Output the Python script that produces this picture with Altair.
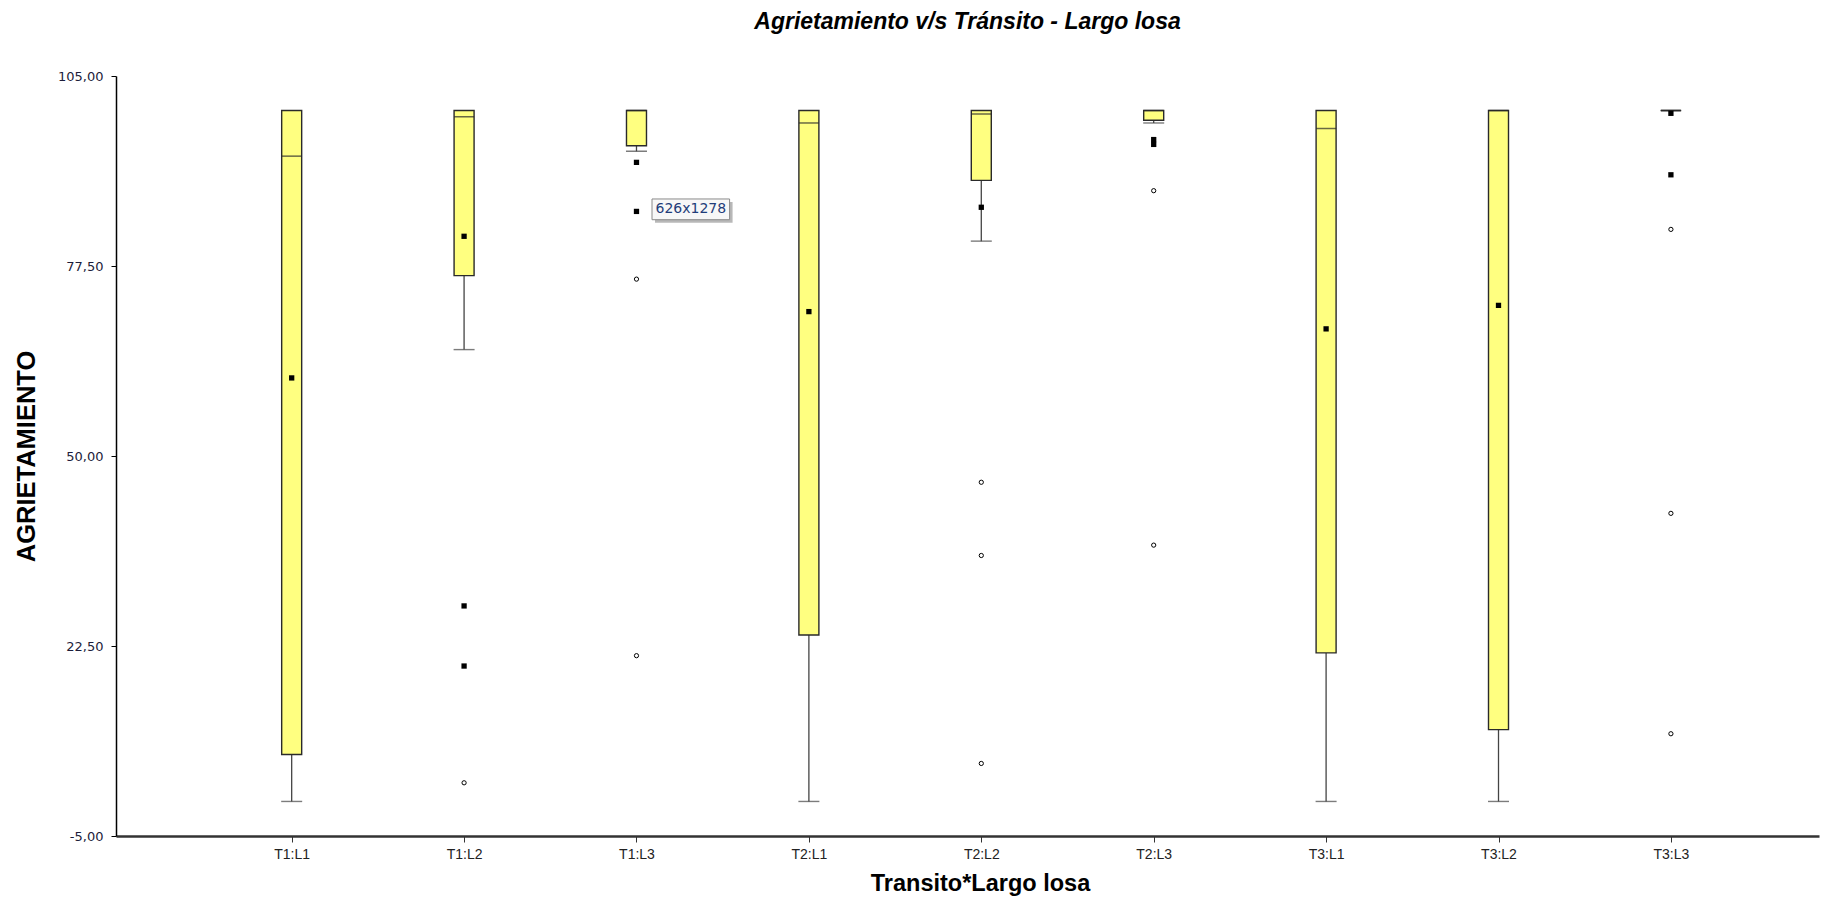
import altair as alt
import pandas as pd

# Groups: traffic level x slab length
categories = ["T1:L1", "T1:L2", "T1:L3", "T2:L1", "T2:L2", "T2:L3", "T3:L1", "T3:L2", "T3:L3"]

# Box statistics per group (cracking, %)
box_low = [6.8, 76.1, 94.9, 24.1, 89.9, 98.6, 21.5, 10.4, 100.0]
box_high = [100.0, 100.0, 100.0, 100.0, 100.0, 100.0, 100.0, 100.0, 100.0]
medians = [93.4, 99.1, 100.0, 98.2, 99.5, 100.0, 97.4, 100.0, 100.0]
whisker_low = [0.0, 65.4, 94.1, 0.0, 81.1, 98.2, 0.0, 0.0, 100.0]
means = [61.3, 81.8, 85.4, 70.9, 86.0, 95.1, 68.4, 71.8, 90.7]

# Individual points drawn as filled squares
filled_cat = ["T1:L2", "T1:L2", "T1:L3", "T2:L3", "T3:L3"]
filled_val = [28.3, 19.6, 92.5, 95.8, 99.6]

# Individual points drawn as open circles
open_cat = ["T1:L2", "T1:L3", "T1:L3", "T2:L2", "T2:L2", "T2:L2",
            "T2:L3", "T2:L3", "T3:L3", "T3:L3", "T3:L3"]
open_val = [2.7, 75.6, 21.1, 46.2, 35.6, 5.5, 88.4, 37.1, 82.8, 41.7, 9.8]

# Floating size label
note_text = ["626x1278"]
note_x = [3.09]
note_x2 = [3.54]
note_y = [87.2]
note_y2 = [84.2]

y_ticks = [-5, 22.5, 50, 77.5, 105]

pos = {c: i + 1 for i, c in enumerate(categories)}

boxes = pd.DataFrame({
    "grupo": categories,
    "pos": [pos[c] for c in categories],
    "q1": box_low,
    "q3": box_high,
    "mediana": medians,
    "minimo": whisker_low,
    "media": means,
})
filled = pd.DataFrame({"grupo": filled_cat, "pos": [pos[c] for c in filled_cat], "valor": filled_val})
opened = pd.DataFrame({"grupo": open_cat, "pos": [pos[c] for c in open_cat], "valor": open_val})
note = pd.DataFrame({"t": note_text, "x": note_x, "x2": note_x2, "y": note_y, "y2": note_y2})

SANS = "Liberation Sans, Arial, sans-serif"

label_expr = "[" + ",".join(f"'{c}'" for c in categories) + "][datum.value - 1]"

x_scale = alt.Scale(domain=[0.01, 9.83], nice=False, zero=False)
y_scale = alt.Scale(domain=[-5, 105], nice=False, zero=False)

x_axis = alt.Axis(
    values=list(range(1, len(categories) + 1)),
    labelExpr=label_expr,
    title="Transito*Largo losa",
    titleFont=SANS, titleFontSize=23.5, titleFontWeight="bold", titleColor="#000",
    titleX=864, titleY=47, titleBaseline="middle", titleAlign="center",
    labelFont=SANS, labelFontSize=14, labelColor="#222", labelPadding=5,
    tickSize=6, tickColor="#333", tickWidth=1,
    domainColor="#333", domainWidth=2.5,
    grid=False,
)
y_axis = alt.Axis(
    values=y_ticks,
    labelExpr="replace(replace(format(datum.value, '.2f'), '.', ','), '\u2212', '-')",
    title="AGRIETAMIENTO",
    titleFont=SANS, titleFontSize=25.5, titleFontWeight="bold", titleColor="#000",
    titleAngle=270, titleX=-90, titleY=380, titleBaseline="middle", titleAlign="center",
    labelFont="DejaVu Sans", labelFontSize=13, labelColor="#1c1c3a", labelPadding=8,
    tickSize=5, tickColor="#000", tickWidth=1,
    domainColor="#000", domainWidth=1.5,
    grid=False,
)

# Shared encodings for the per-group statistics
X = alt.X("pos:Q", scale=x_scale, axis=x_axis)

whisker = alt.Chart(boxes).mark_rule(color="#444", strokeWidth=1.3).encode(
    x=X,
    y=alt.Y("minimo:Q", scale=y_scale, axis=y_axis),
    y2="q1:Q",
)
cap = alt.Chart(boxes).mark_tick(orient="horizontal", size=21, thickness=1.4, color="#444").encode(
    x=X,
    y=alt.Y("minimo:Q", scale=y_scale, axis=y_axis),
)
box = alt.Chart(boxes).mark_bar(size=20, fill="#FFFF80", stroke="#2a2a2a", strokeWidth=1.4).encode(
    x=X,
    y=alt.Y("q1:Q", scale=y_scale, axis=y_axis),
    y2="q3:Q",
)
median = alt.Chart(boxes).mark_tick(orient="horizontal", size=20, thickness=1.5, color="#2a2a2a").encode(
    x=X,
    y=alt.Y("mediana:Q", scale=y_scale, axis=y_axis),
)
mean = alt.Chart(boxes).mark_square(size=28, color="#000", opacity=1).encode(
    x=X,
    y=alt.Y("media:Q", scale=y_scale, axis=y_axis),
)
filled_pts = alt.Chart(filled).mark_square(size=28, color="#000", opacity=1).encode(
    x=X,
    y=alt.Y("valor:Q", scale=y_scale, axis=y_axis),
)
open_pts = alt.Chart(opened).mark_point(shape="circle", size=18, filled=True, fill="#fff",
                                        stroke="#000", strokeWidth=1, opacity=1).encode(
    x=X,
    y=alt.Y("valor:Q", scale=y_scale, axis=y_axis),
)

note_shadow = alt.Chart(note).mark_rect(fill="#b8b8b8", xOffset=3, yOffset=3, x2Offset=3, y2Offset=3).encode(
    x=alt.X("x:Q", scale=x_scale, axis=x_axis), x2="x2:Q",
    y=alt.Y("y:Q", scale=y_scale, axis=y_axis), y2="y2:Q",
)
note_box = alt.Chart(note).mark_rect(fill="#f7f7f7", stroke="#8a8a8a", strokeWidth=1).encode(
    x=alt.X("x:Q", scale=x_scale, axis=x_axis), x2="x2:Q",
    y=alt.Y("y:Q", scale=y_scale, axis=y_axis), y2="y2:Q",
)
note_label = alt.Chart(note).transform_calculate(
    cx="(datum.x + datum.x2) / 2", cy="(datum.y + datum.y2) / 2"
).mark_text(font="DejaVu Sans", fontSize=14, color="#1f3d7a", align="center", baseline="middle").encode(
    x=alt.X("cx:Q", scale=x_scale, axis=x_axis),
    y=alt.Y("cy:Q", scale=y_scale, axis=y_axis),
    text="t:N",
)

chart = alt.layer(
    whisker, cap, box, median, mean, filled_pts, open_pts, note_shadow, note_box, note_label
).properties(
    width=1703,
    height=760,
    title=alt.TitleParams(
        text="Agrietamiento v/s Tránsito - Largo losa",
        font=SANS, fontSize=23, fontWeight="bold", fontStyle="italic", color="#000",
        anchor="middle", offset=36,
    ),
    autosize=alt.AutoSizeParams(type="none"),
    padding={"left": 116, "top": 76, "right": 17, "bottom": 62},
).configure(
    background="#ffffff",
    view={"stroke": None},
    axis={"grid": False, "gridOpacity": 0},
)

chart.save("out.html", embed_options={"renderer": "svg", "actions": False})
